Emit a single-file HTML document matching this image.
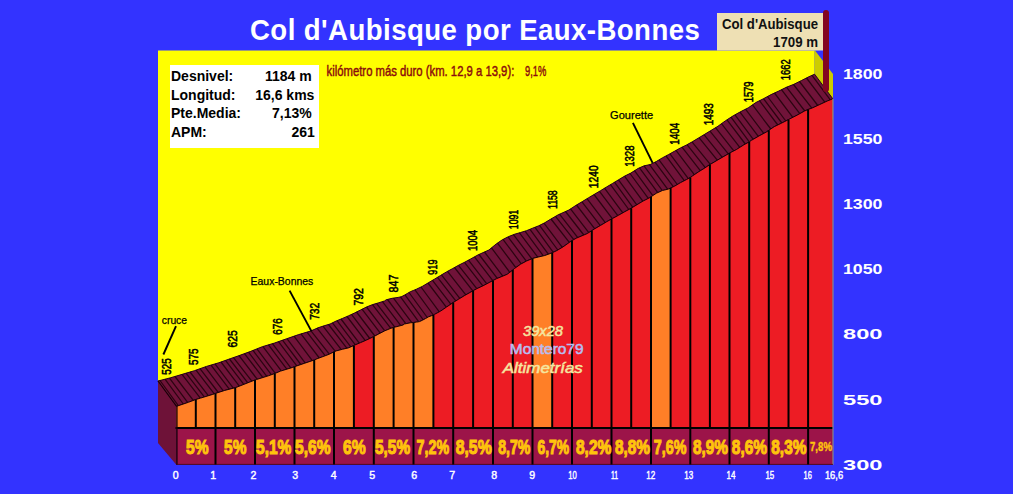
<!DOCTYPE html>
<html><head><meta charset="utf-8"><style>html,body{margin:0;padding:0;background:#3333ff;overflow:hidden}svg{display:block}</style></head>
<body><svg width="1013" height="494" viewBox="0 0 1013 494" style="font-family:'Liberation Sans',sans-serif">
<rect x="0" y="0" width="1013" height="494" fill="#3333ff"/>
<polygon points="158,50.5 814.6,50.5 814.6,74.2 809,76.7 801.5,80.5 793.9,84.3 786.3,87.3 778.7,91.1 771.1,94.6 763.5,98.7 755.9,102.5 748.3,107.8 740.8,111.6 733.2,115.8 725.6,120.7 718,126.2 710.8,130.6 704.7,134.3 698.7,137.9 692.6,141.6 686.5,145 680.5,147.9 674.4,151.3 668.3,154.7 662.3,157.9 656.2,161.6 650.1,164.6 644.1,165.8 638,168.5 630.8,173.1 624.7,176.1 618.7,179.7 612.6,183.4 606.5,187 600.5,190.7 594.4,194.3 588.3,197.9 582.3,201.6 576.2,205.2 568.9,210 558,214.9 550.8,219.1 544.7,222.8 538.7,225.8 532.6,228.2 526.5,230.7 520.5,232.5 514.4,234.3 508.3,236.7 502.3,239.8 496.2,244 488.9,250 478,254.9 470.8,258.9 464.7,262.2 458.7,265.2 452.6,268.6 446.5,271.9 440.5,275.5 434.4,279.2 428.3,282.8 422.3,286.4 416.4,289.2 413.3,290.5 410.3,291.7 407.3,293.5 404.2,295.3 401.2,296.8 398.2,297.4 392.1,298.3 386.1,299.8 384.7,300.9 378.7,302.8 372.6,304.6 366.5,307 360.5,310 354.4,313.1 348.3,315.9 342.3,318.5 336.2,321 330.1,324 324.1,325.8 318,327.8 310.8,331 298.7,334.6 286.5,338.8 274.4,343.1 262.3,346.7 250.1,351.6 238,356 230.8,358.5 218.7,362.8 206.5,366.4 194.4,370.7 182.3,374.3 170.1,377.9 158,381" fill="#ffff00"/>
<polygon points="814.6,50 833,74 833,120 814.6,100" fill="#cccc00"/>
<polygon points="176,406.4 176.3,406.4 188.4,402.3 195.8,399.5 200.6,398.1 212.7,394.4 215.5,393.4 224.8,390.4 235.2,387.7 237,387.1 249.1,382.3 255,380 256.3,379.6 268.4,375.8 274.8,373.5 280.6,371.1 292.7,367.4 294.5,366.7 304.8,363.2 314.2,360 317,358.8 329.1,354.3 334,351.8 336.3,350.9 342.4,349.3 348.4,347.9 353.9,345.5 354.5,345.2 360.6,342.6 366.6,340 372.7,337.1 373.8,336.6 378.8,333.9 384.8,330.8 390.9,328.3 393.6,327.4 397,326.6 403,325 404.4,324 410.4,322.8 413.5,322.5 416.5,322.1 419.5,321.6 422.5,320.2 425.6,318.5 428.6,316.8 431.6,315.7 433.4,315 434.7,314.3 440.6,311.1 446.6,307 452.7,302.9 453.2,302.5 458.8,299.1 464.8,295.4 470.9,292 473.1,290.7 477,288.6 483,285.8 489.1,282.6 493,280.5 496.3,278.8 507.2,274.3 512.8,270 514.5,268.5 520.6,264.2 526.6,261 532.5,258.5 532.7,258.4 538.8,256.9 544.8,255.5 550.9,253.3 552.2,252.8 557,250.5 563,246.9 569.1,242.6 572,240.6 576.3,238.2 587.2,233.6 591.8,230.7 594.5,228.9 600.6,225.4 606.6,221.8 611.5,219 612.7,218.4 618.8,215.1 624.8,211.7 630.9,208.4 631.2,208.2 637,204.7 643,201.1 649.1,198 651,196.8 656.3,193.3 662.4,190.5 668.4,189.1 670.6,188 674.5,186.2 680.6,182.6 686.6,179.5 690.3,177.5 692.7,175.8 698.8,171.7 704.8,168 709.9,164.5 710.9,164 717,160.4 723,156.9 729.1,153.4 729.5,153.1 736.3,149.6 743.9,144.8 749.2,141.9 751.5,140.3 759.1,135.9 766.6,131.9 768.8,130.3 774.2,126.7 781.8,123 788.5,119.6 789.4,119.1 797,115.2 804.6,111 808.1,109.5 812.2,108 819.8,104.5 827.3,101 832.8,98.8 814.6,74.2 809,76.7 801.5,80.5 793.9,84.3 786.3,87.3 778.7,91.1 771.1,94.6 763.5,98.7 755.9,102.5 748.3,107.8 740.8,111.6 733.2,115.8 725.6,120.7 718,126.2 710.8,130.6 704.7,134.3 698.7,137.9 692.6,141.6 686.5,145 680.5,147.9 674.4,151.3 668.3,154.7 662.3,157.9 656.2,161.6 650.1,164.6 644.1,165.8 638,168.5 630.8,173.1 624.7,176.1 618.7,179.7 612.6,183.4 606.5,187 600.5,190.7 594.4,194.3 588.3,197.9 582.3,201.6 576.2,205.2 568.9,210 558,214.9 550.8,219.1 544.7,222.8 538.7,225.8 532.6,228.2 526.5,230.7 520.5,232.5 514.4,234.3 508.3,236.7 502.3,239.8 496.2,244 488.9,250 478,254.9 470.8,258.9 464.7,262.2 458.7,265.2 452.6,268.6 446.5,271.9 440.5,275.5 434.4,279.2 428.3,282.8 422.3,286.4 416.4,289.2 413.3,290.5 410.3,291.7 407.3,293.5 404.2,295.3 401.2,296.8 398.2,297.4 392.1,298.3 386.1,299.8 384.7,300.9 378.7,302.8 372.6,304.6 366.5,307 360.5,310 354.4,313.1 348.3,315.9 342.3,318.5 336.2,321 330.1,324 324.1,325.8 318,327.8 310.8,331 298.7,334.6 286.5,338.8 274.4,343.1 262.3,346.7 250.1,351.6 238,356 230.8,358.5 218.7,362.8 206.5,366.4 194.4,370.7 182.3,374.3 170.1,377.9 158,381" fill="#701339" stroke="#2a0512" stroke-width="1"/>
<path d="M178.3 405.7L160 380.5M183.3 404L165 379.2M187.8 402.5L169.5 378.1M193.3 400.4L175 376.5M200.3 398.1L182 374.4M204.3 396.9L186 373.2M208.3 395.7L190 372M214.3 393.8L196 370.1M218.3 392.5L200 368.7M223.3 390.9L205 366.9M229.3 389.2L211 365.1M233.3 388.2L215 363.9M239.3 386.2L221 362M243.8 384.4L225.5 360.4M247.8 382.8L229.5 359M251.8 381.2L233.5 357.6M257.3 379.3L239 355.6M262.8 377.5L244.5 353.6M266.8 376.3L248.5 352.2M271.3 374.7L253 350.4M275.3 373.3L257 348.8M281.3 370.9L263 346.5M286.8 369.2L268.5 344.9M290.8 367.9L272.5 343.7M296.8 365.9L278.5 341.6M300.8 364.5L282.5 340.2M305.3 363L287 338.6M312.3 360.7L294 336.2M319.3 358L301 333.9M325.3 355.8L307 332.1M329.3 354.2L311 330.9M335.3 351.3L317 328.2M341.3 349.6L323 326.2M346.8 348.2L328.5 324.5M350.8 346.8L332.5 322.8M355.3 344.9L337 320.7M359.3 343.2L341 319M365.3 340.6L347 316.5M369.8 338.5L351.5 314.4M374.8 336L356.5 312M380.3 333.1L362 309.2M384.8 330.8L366.5 307M390.8 328.3L372.5 304.6M394.8 327.1L376.5 303.4M400.8 325.6L382.5 301.6M405.8 323.7L387.5 299.5M411.8 322.7L393.5 298.1M418.8 321.8L400.5 296.9M423.3 319.8L405 294.8M427.3 317.5L409 292.5M433.3 315L415 289.8M439.3 311.8L421 287M446.3 307.2L428 283M450.8 304.2L432.5 280.3M455.8 300.9L437.5 277.3M459.8 298.4L441.5 274.9M465.8 294.8L447.5 271.4M472.8 290.9L454.5 267.5M476.8 288.7L458.5 265.3M482.8 285.8L464.5 262.3M486.8 283.8L468.5 260.1M492.8 280.6L474.5 256.8M497.3 278.4L479 254.5M502.8 276.1L484.5 252M509.8 272.3L491.5 247.9M515.8 267.6L497.5 243.1M521.3 263.8L503 239.4M526.3 261.1L508 236.9M531.8 258.8L513.5 234.7M537.8 257.2L519.5 232.8M543.3 255.8L525 231.1M548.3 254.2L530 229.3M553.3 252.3L535 227.3M557.8 250L539.5 225.4M562.3 247.3L544 223.2M569.3 242.4L551 219M573.8 239.6L555.5 216.4M577.8 237.6L559.5 214.2M583.8 235L565.5 211.5M588.8 232.6L570.5 208.9M594.8 228.8L576.5 205M600.3 225.6L582 201.8M605.3 222.6L587 198.7M612.3 218.6L594 194.5M617.8 215.6L599.5 191.3M622.8 212.8L604.5 188.2M628.8 209.5L610.5 184.6M632.8 207.3L614.5 182.2M636.8 204.8L618.5 179.8M642.8 201.2L624.5 176.2M648.3 198.4L630 173.5M652.8 195.6L634.5 170.7M657.8 192.6L639.5 167.8M662.3 190.5L644 165.8M667.8 189.3L649.5 164.7M673.3 186.7L655 162.2M677.3 184.5L659 159.9M684.3 180.7L666 155.9M688.3 178.6L670 153.8M694.3 174.7L676 150.4M700.3 170.7L682 147.2M705.3 167.7L687 144.7M710.3 164.3L692 141.9M717.3 160.2L699 137.7M722.3 157.3L704 134.7M728.3 153.8L710 131.1M733.8 150.9L715.5 127.7M739.8 147.4L721.5 123.7M745.3 144L727 119.8M749.3 141.8L731 117.2M753.3 139.3L735 114.8M758.3 136.4L740 112M763.8 133.4L745.5 109.2M770.8 129L752.5 104.9M777.8 125L759.5 100.7M781.8 123L763.5 98.7M785.8 121L767.5 96.5M792.8 117.3L774.5 93M799.8 113.7L781.5 89.7M804.8 111L786.5 87.2M811.8 108.2L793.5 84.5M817.8 105.5L799.5 81.5M824.8 102.2L806.5 78M830.3 99.8L812 75.4" stroke="#1a0006" stroke-width="1.25" fill="none" opacity="0.8"/>
<polygon points="158,381 176.3,406.4 176.3,464.8 158,443" fill="#6e1238"/>
<line x1="158" y1="381" x2="176.6" y2="406.4" stroke="#1a0008" stroke-width="1.2"/>
<polygon points="176,406.4 176.3,406.4 188.4,402.3 195.8,399.5 195.8,428.0 176,428.0" fill="#ff7f27"/>
<polygon points="195.8,399.5 200.6,398.1 212.7,394.4 215.5,393.4 215.5,428.0 195.8,428.0" fill="#ff7f27"/>
<polygon points="215.5,393.4 224.8,390.4 235.2,387.7 235.2,428.0 215.5,428.0" fill="#ff7f27"/>
<polygon points="235.2,387.7 237,387.1 249.1,382.3 255,380 255,428.0 235.2,428.0" fill="#ff7f27"/>
<polygon points="255,380 256.3,379.6 268.4,375.8 274.8,373.5 274.8,428.0 255,428.0" fill="#ff7f27"/>
<polygon points="274.8,373.5 280.6,371.1 292.7,367.4 294.5,366.7 294.5,428.0 274.8,428.0" fill="#ff7f27"/>
<polygon points="294.5,366.7 304.8,363.2 314.2,360 314.2,428.0 294.5,428.0" fill="#ff7f27"/>
<polygon points="314.2,360 317,358.8 329.1,354.3 334,351.8 334,428.0 314.2,428.0" fill="#ff7f27"/>
<polygon points="334,351.8 336.3,350.9 342.4,349.3 348.4,347.9 353.9,345.5 353.9,428.0 334,428.0" fill="#ff7f27"/>
<polygon points="353.9,345.5 354.5,345.2 360.6,342.6 366.6,340 372.7,337.1 373.8,336.6 373.8,428.0 353.9,428.0" fill="#ed1c24"/>
<polygon points="373.8,336.6 378.8,333.9 384.8,330.8 390.9,328.3 393.6,327.4 393.6,428.0 373.8,428.0" fill="#ff7f27"/>
<polygon points="393.6,327.4 397,326.6 403,325 404.4,324 410.4,322.8 413.5,322.5 413.5,428.0 393.6,428.0" fill="#ff7f27"/>
<polygon points="413.5,322.5 416.5,322.1 419.5,321.6 422.5,320.2 425.6,318.5 428.6,316.8 431.6,315.7 433.4,315 433.4,428.0 413.5,428.0" fill="#ff7f27"/>
<polygon points="433.4,315 434.7,314.3 440.6,311.1 446.6,307 452.7,302.9 453.2,302.5 453.2,428.0 433.4,428.0" fill="#ed1c24"/>
<polygon points="453.2,302.5 458.8,299.1 464.8,295.4 470.9,292 473.1,290.7 473.1,428.0 453.2,428.0" fill="#ed1c24"/>
<polygon points="473.1,290.7 477,288.6 483,285.8 489.1,282.6 493,280.5 493,428.0 473.1,428.0" fill="#ed1c24"/>
<polygon points="493,280.5 496.3,278.8 507.2,274.3 512.8,270 512.8,428.0 493,428.0" fill="#ed1c24"/>
<polygon points="512.8,270 514.5,268.5 520.6,264.2 526.6,261 532.5,258.5 532.5,428.0 512.8,428.0" fill="#ed1c24"/>
<polygon points="532.5,258.5 532.7,258.4 538.8,256.9 544.8,255.5 550.9,253.3 552.2,252.8 552.2,428.0 532.5,428.0" fill="#ff7f27"/>
<polygon points="552.2,252.8 557,250.5 563,246.9 569.1,242.6 572,240.6 572,428.0 552.2,428.0" fill="#ed1c24"/>
<polygon points="572,240.6 576.3,238.2 587.2,233.6 591.8,230.7 591.8,428.0 572,428.0" fill="#ed1c24"/>
<polygon points="591.8,230.7 594.5,228.9 600.6,225.4 606.6,221.8 611.5,219 611.5,428.0 591.8,428.0" fill="#ed1c24"/>
<polygon points="611.5,219 612.7,218.4 618.8,215.1 624.8,211.7 630.9,208.4 631.2,208.2 631.2,428.0 611.5,428.0" fill="#ed1c24"/>
<polygon points="631.2,208.2 637,204.7 643,201.1 649.1,198 651,196.8 651,428.0 631.2,428.0" fill="#ed1c24"/>
<polygon points="651,196.8 656.3,193.3 662.4,190.5 668.4,189.1 670.6,188 670.6,428.0 651,428.0" fill="#ff7f27"/>
<polygon points="670.6,188 674.5,186.2 680.6,182.6 686.6,179.5 690.3,177.5 690.3,428.0 670.6,428.0" fill="#ed1c24"/>
<polygon points="690.3,177.5 692.7,175.8 698.8,171.7 704.8,168 709.9,164.5 709.9,428.0 690.3,428.0" fill="#ed1c24"/>
<polygon points="709.9,164.5 710.9,164 717,160.4 723,156.9 729.1,153.4 729.5,153.1 729.5,428.0 709.9,428.0" fill="#ed1c24"/>
<polygon points="729.5,153.1 736.3,149.6 743.9,144.8 749.2,141.9 749.2,428.0 729.5,428.0" fill="#ed1c24"/>
<polygon points="749.2,141.9 751.5,140.3 759.1,135.9 766.6,131.9 768.8,130.3 768.8,428.0 749.2,428.0" fill="#ed1c24"/>
<polygon points="768.8,130.3 774.2,126.7 781.8,123 788.5,119.6 788.5,428.0 768.8,428.0" fill="#ed1c24"/>
<polygon points="788.5,119.6 789.4,119.1 797,115.2 804.6,111 808.1,109.5 808.1,428.0 788.5,428.0" fill="#ed1c24"/>
<polygon points="808.1,109.5 812.2,108 819.8,104.5 827.3,101 832.8,98.8 832.8,428.0 808.1,428.0" fill="#ed1c24"/>
<polyline points="176,406.4 176.3,406.4 188.4,402.3 195.8,399.5 200.6,398.1 212.7,394.4 215.5,393.4 224.8,390.4 235.2,387.7 237,387.1 249.1,382.3 255,380 256.3,379.6 268.4,375.8 274.8,373.5 280.6,371.1 292.7,367.4 294.5,366.7 304.8,363.2 314.2,360 317,358.8 329.1,354.3 334,351.8 336.3,350.9 342.4,349.3 348.4,347.9 353.9,345.5 354.5,345.2 360.6,342.6 366.6,340 372.7,337.1 373.8,336.6 378.8,333.9 384.8,330.8 390.9,328.3 393.6,327.4 397,326.6 403,325 404.4,324 410.4,322.8 413.5,322.5 416.5,322.1 419.5,321.6 422.5,320.2 425.6,318.5 428.6,316.8 431.6,315.7 433.4,315 434.7,314.3 440.6,311.1 446.6,307 452.7,302.9 453.2,302.5 458.8,299.1 464.8,295.4 470.9,292 473.1,290.7 477,288.6 483,285.8 489.1,282.6 493,280.5 496.3,278.8 507.2,274.3 512.8,270 514.5,268.5 520.6,264.2 526.6,261 532.5,258.5 532.7,258.4 538.8,256.9 544.8,255.5 550.9,253.3 552.2,252.8 557,250.5 563,246.9 569.1,242.6 572,240.6 576.3,238.2 587.2,233.6 591.8,230.7 594.5,228.9 600.6,225.4 606.6,221.8 611.5,219 612.7,218.4 618.8,215.1 624.8,211.7 630.9,208.4 631.2,208.2 637,204.7 643,201.1 649.1,198 651,196.8 656.3,193.3 662.4,190.5 668.4,189.1 670.6,188 674.5,186.2 680.6,182.6 686.6,179.5 690.3,177.5 692.7,175.8 698.8,171.7 704.8,168 709.9,164.5 710.9,164 717,160.4 723,156.9 729.1,153.4 729.5,153.1 736.3,149.6 743.9,144.8 749.2,141.9 751.5,140.3 759.1,135.9 766.6,131.9 768.8,130.3 774.2,126.7 781.8,123 788.5,119.6 789.4,119.1 797,115.2 804.6,111 808.1,109.5 812.2,108 819.8,104.5 827.3,101 832.8,98.8" fill="none" stroke="#1a0008" stroke-width="1"/>
<line x1="195.8" y1="399.5" x2="195.8" y2="428.0" stroke="#000" stroke-width="2"/>
<line x1="215.5" y1="393.4" x2="215.5" y2="428.0" stroke="#000" stroke-width="2"/>
<line x1="235.2" y1="387.7" x2="235.2" y2="428.0" stroke="#000" stroke-width="2"/>
<line x1="255" y1="380" x2="255" y2="428.0" stroke="#000" stroke-width="2"/>
<line x1="274.8" y1="373.5" x2="274.8" y2="428.0" stroke="#000" stroke-width="2"/>
<line x1="294.5" y1="366.7" x2="294.5" y2="428.0" stroke="#000" stroke-width="2"/>
<line x1="314.2" y1="360" x2="314.2" y2="428.0" stroke="#000" stroke-width="2"/>
<line x1="334" y1="351.8" x2="334" y2="428.0" stroke="#000" stroke-width="2"/>
<line x1="353.9" y1="345.5" x2="353.9" y2="428.0" stroke="#000" stroke-width="2"/>
<line x1="373.8" y1="336.6" x2="373.8" y2="428.0" stroke="#000" stroke-width="2"/>
<line x1="393.6" y1="327.4" x2="393.6" y2="428.0" stroke="#000" stroke-width="2"/>
<line x1="413.5" y1="322.5" x2="413.5" y2="428.0" stroke="#000" stroke-width="2"/>
<line x1="433.4" y1="315" x2="433.4" y2="428.0" stroke="#000" stroke-width="2"/>
<line x1="453.2" y1="302.5" x2="453.2" y2="428.0" stroke="#000" stroke-width="2"/>
<line x1="473.1" y1="290.7" x2="473.1" y2="428.0" stroke="#000" stroke-width="2"/>
<line x1="493" y1="280.5" x2="493" y2="428.0" stroke="#000" stroke-width="2"/>
<line x1="512.8" y1="270" x2="512.8" y2="428.0" stroke="#000" stroke-width="2"/>
<line x1="532.5" y1="258.5" x2="532.5" y2="428.0" stroke="#000" stroke-width="2"/>
<line x1="552.2" y1="252.8" x2="552.2" y2="428.0" stroke="#000" stroke-width="2"/>
<line x1="572" y1="240.6" x2="572" y2="428.0" stroke="#000" stroke-width="2"/>
<line x1="591.8" y1="230.7" x2="591.8" y2="428.0" stroke="#000" stroke-width="2"/>
<line x1="611.5" y1="219" x2="611.5" y2="428.0" stroke="#000" stroke-width="2"/>
<line x1="631.2" y1="208.2" x2="631.2" y2="428.0" stroke="#000" stroke-width="2"/>
<line x1="651" y1="196.8" x2="651" y2="428.0" stroke="#000" stroke-width="2"/>
<line x1="670.6" y1="188" x2="670.6" y2="428.0" stroke="#000" stroke-width="2"/>
<line x1="690.3" y1="177.5" x2="690.3" y2="428.0" stroke="#000" stroke-width="2"/>
<line x1="709.9" y1="164.5" x2="709.9" y2="428.0" stroke="#000" stroke-width="2"/>
<line x1="729.5" y1="153.1" x2="729.5" y2="428.0" stroke="#000" stroke-width="2"/>
<line x1="749.2" y1="141.9" x2="749.2" y2="428.0" stroke="#000" stroke-width="2"/>
<line x1="768.8" y1="130.3" x2="768.8" y2="428.0" stroke="#000" stroke-width="2"/>
<line x1="788.5" y1="119.6" x2="788.5" y2="428.0" stroke="#000" stroke-width="2"/>
<line x1="808.1" y1="109.5" x2="808.1" y2="428.0" stroke="#000" stroke-width="2"/>
<rect x="176.3" y="428.0" width="656.7" height="36.80000000000001" fill="#9c1449"/>
<line x1="175.5" y1="428.0" x2="833" y2="428.0" stroke="#000" stroke-width="2"/>
<line x1="215.5" y1="428.0" x2="215.5" y2="464.8" stroke="#000" stroke-width="2"/>
<line x1="255" y1="428.0" x2="255" y2="464.8" stroke="#000" stroke-width="2"/>
<line x1="294.5" y1="428.0" x2="294.5" y2="464.8" stroke="#000" stroke-width="2"/>
<line x1="334" y1="428.0" x2="334" y2="464.8" stroke="#000" stroke-width="2"/>
<line x1="373.8" y1="428.0" x2="373.8" y2="464.8" stroke="#000" stroke-width="2"/>
<line x1="413.5" y1="428.0" x2="413.5" y2="464.8" stroke="#000" stroke-width="2"/>
<line x1="453.2" y1="428.0" x2="453.2" y2="464.8" stroke="#000" stroke-width="2"/>
<line x1="493" y1="428.0" x2="493" y2="464.8" stroke="#000" stroke-width="2"/>
<line x1="532.5" y1="428.0" x2="532.5" y2="464.8" stroke="#000" stroke-width="2"/>
<line x1="572" y1="428.0" x2="572" y2="464.8" stroke="#000" stroke-width="2"/>
<line x1="611.5" y1="428.0" x2="611.5" y2="464.8" stroke="#000" stroke-width="2"/>
<line x1="651" y1="428.0" x2="651" y2="464.8" stroke="#000" stroke-width="2"/>
<line x1="690.3" y1="428.0" x2="690.3" y2="464.8" stroke="#000" stroke-width="2"/>
<line x1="729.5" y1="428.0" x2="729.5" y2="464.8" stroke="#000" stroke-width="2"/>
<line x1="768.8" y1="428.0" x2="768.8" y2="464.8" stroke="#000" stroke-width="2"/>
<line x1="808.1" y1="428.0" x2="808.1" y2="464.8" stroke="#000" stroke-width="2"/>
<line x1="833" y1="98.8" x2="833" y2="464.8" stroke="#888" stroke-width="1.2"/>
<line x1="176.9" y1="405.9" x2="176.9" y2="464.8" stroke="#1a0008" stroke-width="1.4"/>
<line x1="176" y1="464.40000000000003" x2="833" y2="464.40000000000003" stroke="#3a0818" stroke-width="0.8"/>
<text x="186" y="453.7" textLength="22.5" lengthAdjust="spacingAndGlyphs" font-family="Liberation Sans" font-weight="bold" font-size="20" fill="#ffc40c" stroke="#ffc40c" stroke-width="1.1">5%</text>
<text x="224.1" y="453.7" textLength="22.3" lengthAdjust="spacingAndGlyphs" font-family="Liberation Sans" font-weight="bold" font-size="20" fill="#ffc40c" stroke="#ffc40c" stroke-width="1.1">5%</text>
<text x="256.1" y="453.7" textLength="35.3" lengthAdjust="spacingAndGlyphs" font-family="Liberation Sans" font-weight="bold" font-size="20" fill="#ffc40c" stroke="#ffc40c" stroke-width="1.1">5,1%</text>
<text x="295" y="453.7" textLength="35.5" lengthAdjust="spacingAndGlyphs" font-family="Liberation Sans" font-weight="bold" font-size="20" fill="#ffc40c" stroke="#ffc40c" stroke-width="1.1">5,6%</text>
<text x="343" y="453.7" textLength="22.6" lengthAdjust="spacingAndGlyphs" font-family="Liberation Sans" font-weight="bold" font-size="20" fill="#ffc40c" stroke="#ffc40c" stroke-width="1.1">6%</text>
<text x="375" y="453.7" textLength="35.1" lengthAdjust="spacingAndGlyphs" font-family="Liberation Sans" font-weight="bold" font-size="20" fill="#ffc40c" stroke="#ffc40c" stroke-width="1.1">5,5%</text>
<text x="416.6" y="453.7" textLength="32.5" lengthAdjust="spacingAndGlyphs" font-family="Liberation Sans" font-weight="bold" font-size="20" fill="#ffc40c" stroke="#ffc40c" stroke-width="1.1">7,2%</text>
<text x="455.7" y="453.7" textLength="36" lengthAdjust="spacingAndGlyphs" font-family="Liberation Sans" font-weight="bold" font-size="20" fill="#ffc40c" stroke="#ffc40c" stroke-width="1.1">8,5%</text>
<text x="498.2" y="453.7" textLength="32.2" lengthAdjust="spacingAndGlyphs" font-family="Liberation Sans" font-weight="bold" font-size="20" fill="#ffc40c" stroke="#ffc40c" stroke-width="1.1">8,7%</text>
<text x="537.5" y="453.7" textLength="31.7" lengthAdjust="spacingAndGlyphs" font-family="Liberation Sans" font-weight="bold" font-size="20" fill="#ffc40c" stroke="#ffc40c" stroke-width="1.1">6,7%</text>
<text x="575.9" y="453.7" textLength="35.5" lengthAdjust="spacingAndGlyphs" font-family="Liberation Sans" font-weight="bold" font-size="20" fill="#ffc40c" stroke="#ffc40c" stroke-width="1.1">8,2%</text>
<text x="615" y="453.7" textLength="35" lengthAdjust="spacingAndGlyphs" font-family="Liberation Sans" font-weight="bold" font-size="20" fill="#ffc40c" stroke="#ffc40c" stroke-width="1.1">8,8%</text>
<text x="653.8" y="453.7" textLength="32.6" lengthAdjust="spacingAndGlyphs" font-family="Liberation Sans" font-weight="bold" font-size="20" fill="#ffc40c" stroke="#ffc40c" stroke-width="1.1">7,6%</text>
<text x="692.9" y="453.7" textLength="35" lengthAdjust="spacingAndGlyphs" font-family="Liberation Sans" font-weight="bold" font-size="20" fill="#ffc40c" stroke="#ffc40c" stroke-width="1.1">8,9%</text>
<text x="731.8" y="453.7" textLength="35.2" lengthAdjust="spacingAndGlyphs" font-family="Liberation Sans" font-weight="bold" font-size="20" fill="#ffc40c" stroke="#ffc40c" stroke-width="1.1">8,6%</text>
<text x="771.3" y="453.7" textLength="35.1" lengthAdjust="spacingAndGlyphs" font-family="Liberation Sans" font-weight="bold" font-size="20" fill="#ffc40c" stroke="#ffc40c" stroke-width="1.1">8,3%</text>
<text x="810" y="451" textLength="22" lengthAdjust="spacingAndGlyphs" font-family="Liberation Sans" font-weight="bold" font-size="13.2" fill="#ffc40c" stroke="#ffc40c" stroke-width="0.4">7,8%</text>
<text x="175.7" y="479.2" transform="translate(175.7 0) scale(0.9 1) translate(-175.7 0)" text-anchor="middle" font-family="Liberation Sans" font-size="11.8" fill="#fff" stroke="#fff" stroke-width="0.45">0</text>
<text x="213.1" y="479.2" transform="translate(213.1 0) scale(0.9 1) translate(-213.1 0)" text-anchor="middle" font-family="Liberation Sans" font-size="11.8" fill="#fff" stroke="#fff" stroke-width="0.45">1</text>
<text x="253.4" y="479.2" transform="translate(253.4 0) scale(0.9 1) translate(-253.4 0)" text-anchor="middle" font-family="Liberation Sans" font-size="11.8" fill="#fff" stroke="#fff" stroke-width="0.45">2</text>
<text x="295.3" y="479.2" transform="translate(295.3 0) scale(0.9 1) translate(-295.3 0)" text-anchor="middle" font-family="Liberation Sans" font-size="11.8" fill="#fff" stroke="#fff" stroke-width="0.45">3</text>
<text x="333.7" y="479.2" transform="translate(333.7 0) scale(0.9 1) translate(-333.7 0)" text-anchor="middle" font-family="Liberation Sans" font-size="11.8" fill="#fff" stroke="#fff" stroke-width="0.45">4</text>
<text x="372.3" y="479.2" transform="translate(372.3 0) scale(0.9 1) translate(-372.3 0)" text-anchor="middle" font-family="Liberation Sans" font-size="11.8" fill="#fff" stroke="#fff" stroke-width="0.45">5</text>
<text x="414.2" y="479.2" transform="translate(414.2 0) scale(0.9 1) translate(-414.2 0)" text-anchor="middle" font-family="Liberation Sans" font-size="11.8" fill="#fff" stroke="#fff" stroke-width="0.45">6</text>
<text x="452.1" y="479.2" transform="translate(452.1 0) scale(0.9 1) translate(-452.1 0)" text-anchor="middle" font-family="Liberation Sans" font-size="11.8" fill="#fff" stroke="#fff" stroke-width="0.45">7</text>
<text x="494.3" y="479.2" transform="translate(494.3 0) scale(0.9 1) translate(-494.3 0)" text-anchor="middle" font-family="Liberation Sans" font-size="11.8" fill="#fff" stroke="#fff" stroke-width="0.45">8</text>
<text x="532.2" y="479.2" transform="translate(532.2 0) scale(0.9 1) translate(-532.2 0)" text-anchor="middle" font-family="Liberation Sans" font-size="11.8" fill="#fff" stroke="#fff" stroke-width="0.45">9</text>
<text x="568.2" y="479.2" textLength="8.5" lengthAdjust="spacingAndGlyphs" font-family="Liberation Sans" font-size="11.8" fill="#fff" stroke="#fff" stroke-width="0.45">10</text>
<text x="611" y="479.2" textLength="7.1" lengthAdjust="spacingAndGlyphs" font-family="Liberation Sans" font-size="11.8" fill="#fff" stroke="#fff" stroke-width="0.45">11</text>
<text x="646.3" y="479.2" textLength="9" lengthAdjust="spacingAndGlyphs" font-family="Liberation Sans" font-size="11.8" fill="#fff" stroke="#fff" stroke-width="0.45">12</text>
<text x="684.2" y="479.2" textLength="9" lengthAdjust="spacingAndGlyphs" font-family="Liberation Sans" font-size="11.8" fill="#fff" stroke="#fff" stroke-width="0.45">13</text>
<text x="726.4" y="479.2" textLength="9" lengthAdjust="spacingAndGlyphs" font-family="Liberation Sans" font-size="11.8" fill="#fff" stroke="#fff" stroke-width="0.45">14</text>
<text x="765.4" y="479.2" textLength="8.8" lengthAdjust="spacingAndGlyphs" font-family="Liberation Sans" font-size="11.8" fill="#fff" stroke="#fff" stroke-width="0.45">15</text>
<text x="803.6" y="479.2" textLength="8.3" lengthAdjust="spacingAndGlyphs" font-family="Liberation Sans" font-size="11.8" fill="#fff" stroke="#fff" stroke-width="0.45">16</text>
<text x="824.9" y="479.2" textLength="18.2" lengthAdjust="spacingAndGlyphs" font-family="Liberation Sans" font-size="11.8" fill="#fff" stroke="#fff" stroke-width="0.45">16,6</text>
<text x="843" y="78.7" textLength="39.5" lengthAdjust="spacingAndGlyphs" font-family="Liberation Sans" font-weight="bold" font-size="14.8" fill="#fff">1800</text>
<text x="843" y="143.9" textLength="39.5" lengthAdjust="spacingAndGlyphs" font-family="Liberation Sans" font-weight="bold" font-size="14.8" fill="#fff">1550</text>
<text x="843" y="209" textLength="39.5" lengthAdjust="spacingAndGlyphs" font-family="Liberation Sans" font-weight="bold" font-size="14.8" fill="#fff">1300</text>
<text x="843" y="274.2" textLength="39.5" lengthAdjust="spacingAndGlyphs" font-family="Liberation Sans" font-weight="bold" font-size="14.8" fill="#fff">1050</text>
<text x="843" y="339.3" textLength="39.5" lengthAdjust="spacingAndGlyphs" font-family="Liberation Sans" font-weight="bold" font-size="14.8" fill="#fff">800</text>
<text x="843" y="404.5" textLength="39.5" lengthAdjust="spacingAndGlyphs" font-family="Liberation Sans" font-weight="bold" font-size="14.8" fill="#fff">550</text>
<text x="843" y="469.6" textLength="39.5" lengthAdjust="spacingAndGlyphs" font-family="Liberation Sans" font-weight="bold" font-size="14.8" fill="#fff">300</text>
<text x="0" y="0" transform="translate(250 39.7) scale(0.92 1)" letter-spacing="0.47" font-family="Liberation Sans" font-weight="bold" font-size="30" fill="#fff">Col d'Aubisque por Eaux-Bonnes</text>
<rect x="170" y="65" width="149" height="83" fill="#fff"/>
<text x="171" y="80.8" font-family="Liberation Sans" font-weight="bold" font-size="14" fill="#000">Desnivel:</text>
<text x="311.7" y="80.8" text-anchor="end" font-family="Liberation Sans" font-weight="bold" font-size="14" fill="#000">1184 m</text>
<text x="171" y="99.6" font-family="Liberation Sans" font-weight="bold" font-size="14" fill="#000">Longitud:</text>
<text x="314.4" y="99.6" text-anchor="end" font-family="Liberation Sans" font-weight="bold" font-size="14" fill="#000">16,6 kms</text>
<text x="171" y="118.4" font-family="Liberation Sans" font-weight="bold" font-size="14" fill="#000">Pte.Media:</text>
<text x="311.7" y="118.4" text-anchor="end" font-family="Liberation Sans" font-weight="bold" font-size="14" fill="#000">7,13%</text>
<text x="171" y="137.2" font-family="Liberation Sans" font-weight="bold" font-size="14" fill="#000">APM:</text>
<text x="314.8" y="137.2" text-anchor="end" font-family="Liberation Sans" font-weight="bold" font-size="14" fill="#000">261</text>
<text x="326.6" y="75.9" textLength="187.7" lengthAdjust="spacingAndGlyphs" font-family="Liberation Sans" font-size="14.8" fill="#8b0c0c" stroke="#8b0c0c" stroke-width="0.45">kilómetro más duro (km. 12,9 a 13,9):</text>
<text x="525" y="75.9" textLength="21.3" lengthAdjust="spacingAndGlyphs" font-family="Liberation Sans" font-size="14.8" fill="#8b0c0c" stroke="#8b0c0c" stroke-width="0.45">9,1%</text>
<rect x="717" y="13" width="106" height="37.5" fill="#eee0b4"/>
<text x="722" y="28.5" textLength="96" lengthAdjust="spacingAndGlyphs" font-family="Liberation Sans" font-weight="bold" font-size="14.6" fill="#111">Col d'Aubisque</text>
<text x="773" y="46.5" textLength="45" lengthAdjust="spacingAndGlyphs" font-family="Liberation Sans" font-weight="bold" font-size="14.6" fill="#111">1709 m</text>
<line x1="826" y1="13" x2="826" y2="89" stroke="#820620" stroke-width="6" stroke-linecap="round"/>
<text x="0" y="0" transform="translate(170.5 366.4) rotate(-90)" text-anchor="middle" textLength="16.5" lengthAdjust="spacingAndGlyphs" font-family="Liberation Sans" font-size="12.5" fill="#000" stroke="#000" stroke-width="0.55">525</text>
<text x="0" y="0" transform="translate(198.3 356.8) rotate(-90)" text-anchor="middle" textLength="16.5" lengthAdjust="spacingAndGlyphs" font-family="Liberation Sans" font-size="12.5" fill="#000" stroke="#000" stroke-width="0.55">575</text>
<text x="0" y="0" transform="translate(236.5 338.9) rotate(-90)" text-anchor="middle" textLength="17.3" lengthAdjust="spacingAndGlyphs" font-family="Liberation Sans" font-size="12.5" fill="#000" stroke="#000" stroke-width="0.55">625</text>
<text x="0" y="0" transform="translate(282.1 326.5) rotate(-90)" text-anchor="middle" textLength="16.4" lengthAdjust="spacingAndGlyphs" font-family="Liberation Sans" font-size="12.5" fill="#000" stroke="#000" stroke-width="0.55">676</text>
<text x="0" y="0" transform="translate(319.1 311.3) rotate(-90)" text-anchor="middle" textLength="17" lengthAdjust="spacingAndGlyphs" font-family="Liberation Sans" font-size="12.5" fill="#000" stroke="#000" stroke-width="0.55">732</text>
<text x="0" y="0" transform="translate(363.2 296.9) rotate(-90)" text-anchor="middle" textLength="17.4" lengthAdjust="spacingAndGlyphs" font-family="Liberation Sans" font-size="12.5" fill="#000" stroke="#000" stroke-width="0.55">792</text>
<text x="0" y="0" transform="translate(397.8 283.5) rotate(-90)" text-anchor="middle" textLength="17.8" lengthAdjust="spacingAndGlyphs" font-family="Liberation Sans" font-size="12.5" fill="#000" stroke="#000" stroke-width="0.55">847</text>
<text x="0" y="0" transform="translate(436.9 267.1) rotate(-90)" text-anchor="middle" textLength="15.1" lengthAdjust="spacingAndGlyphs" font-family="Liberation Sans" font-size="12.5" fill="#000" stroke="#000" stroke-width="0.55">919</text>
<text x="0" y="0" transform="translate(476.5 240.4) rotate(-90)" text-anchor="middle" textLength="21.1" lengthAdjust="spacingAndGlyphs" font-family="Liberation Sans" font-size="12.5" fill="#000" stroke="#000" stroke-width="0.55">1004</text>
<text x="0" y="0" transform="translate(518.3 219.5) rotate(-90)" text-anchor="middle" textLength="19.4" lengthAdjust="spacingAndGlyphs" font-family="Liberation Sans" font-size="12.5" fill="#000" stroke="#000" stroke-width="0.55">1091</text>
<text x="0" y="0" transform="translate(557.1 199.7) rotate(-90)" text-anchor="middle" textLength="18.7" lengthAdjust="spacingAndGlyphs" font-family="Liberation Sans" font-size="12.5" fill="#000" stroke="#000" stroke-width="0.55">1158</text>
<text x="0" y="0" transform="translate(598.2 176.8) rotate(-90)" text-anchor="middle" textLength="22.7" lengthAdjust="spacingAndGlyphs" font-family="Liberation Sans" font-size="12.5" fill="#000" stroke="#000" stroke-width="0.55">1240</text>
<text x="0" y="0" transform="translate(633.7 156.2) rotate(-90)" text-anchor="middle" textLength="21.3" lengthAdjust="spacingAndGlyphs" font-family="Liberation Sans" font-size="12.5" fill="#000" stroke="#000" stroke-width="0.55">1328</text>
<text x="0" y="0" transform="translate(678.6 133.8) rotate(-90)" text-anchor="middle" textLength="21.8" lengthAdjust="spacingAndGlyphs" font-family="Liberation Sans" font-size="12.5" fill="#000" stroke="#000" stroke-width="0.55">1404</text>
<text x="0" y="0" transform="translate(712.6 114.2) rotate(-90)" text-anchor="middle" textLength="22.2" lengthAdjust="spacingAndGlyphs" font-family="Liberation Sans" font-size="12.5" fill="#000" stroke="#000" stroke-width="0.55">1493</text>
<text x="0" y="0" transform="translate(753.1 91.9) rotate(-90)" text-anchor="middle" textLength="20.8" lengthAdjust="spacingAndGlyphs" font-family="Liberation Sans" font-size="12.5" fill="#000" stroke="#000" stroke-width="0.55">1579</text>
<text x="0" y="0" transform="translate(789.9 69.7) rotate(-90)" text-anchor="middle" textLength="20.9" lengthAdjust="spacingAndGlyphs" font-family="Liberation Sans" font-size="12.5" fill="#000" stroke="#000" stroke-width="0.55">1662</text>
<text x="161.8" y="323.8" textLength="25.2" lengthAdjust="spacingAndGlyphs" font-family="Liberation Sans" font-size="11.5" fill="#000" stroke="#000" stroke-width="0.25">cruce</text>
<line x1="176" y1="326.2" x2="163.4" y2="354.5" stroke="#000" stroke-width="1.9"/>
<text x="250.6" y="285" textLength="62.7" lengthAdjust="spacingAndGlyphs" font-family="Liberation Sans" font-size="11" fill="#000" stroke="#000" stroke-width="0.25">Eaux-Bonnes</text>
<line x1="289.6" y1="290.6" x2="311.4" y2="331.1" stroke="#000" stroke-width="1.9"/>
<text x="610.1" y="119.2" textLength="43.1" lengthAdjust="spacingAndGlyphs" font-family="Liberation Sans" font-size="11" fill="#000" stroke="#000" stroke-width="0.25">Gourette</text>
<line x1="632.9" y1="122.9" x2="652.6" y2="162.9" stroke="#000" stroke-width="1.9"/>
<text x="523" y="335.6" textLength="40" lengthAdjust="spacingAndGlyphs" font-family="Liberation Sans" font-style="italic" font-size="13.8" fill="#f5e6a0" stroke="#f5e6a0" stroke-width="0.5">39x28</text>
<text x="509.8" y="353.6" textLength="73.7" lengthAdjust="spacingAndGlyphs" font-family="Liberation Sans" font-size="13.8" fill="#b8bef0" stroke="#b8bef0" stroke-width="0.5">Montero79</text>
<text x="502.8" y="373.4" textLength="80" lengthAdjust="spacingAndGlyphs" font-family="Liberation Sans" font-style="italic" font-size="13.8" fill="#f5e6a0" stroke="#f5e6a0" stroke-width="0.5">Altimetrías</text>
</svg></body></html>
